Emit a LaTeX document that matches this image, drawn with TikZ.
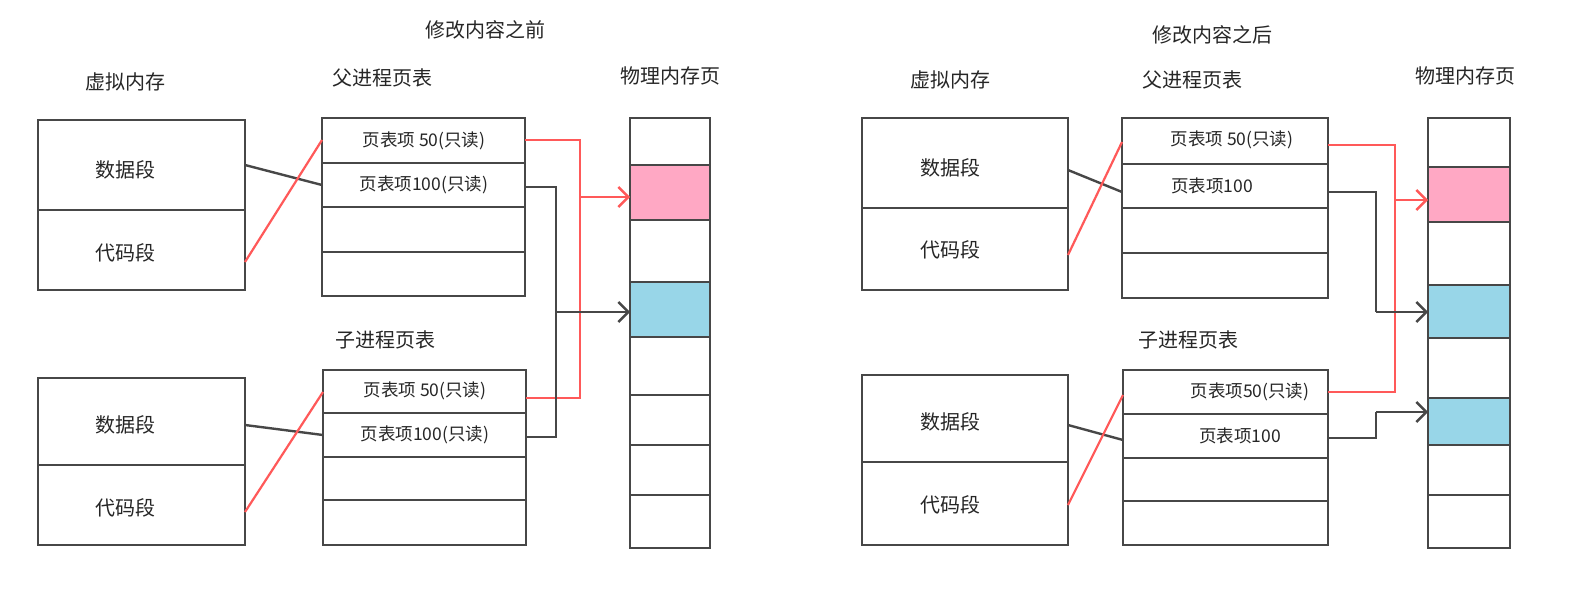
\documentclass[tikz,border=0pt]{standalone}
\usepackage{fontspec}
\setmainfont{Noto Sans CJK SC}
\usetikzlibrary{arrows.meta}
\definecolor{pk}{HTML}{FFA8C4}
\definecolor{bl}{HTML}{98D6E8}
\begin{document}
\begin{tikzpicture}[x=1pt,y=-1pt,
  bx/.style={draw=black!72,line width=2.6pt},
  sep/.style={draw=black!72,line width=2.4pt},
  lbl/.style={font=\fontsize{20}{22}\selectfont,text=black!85},
  ent/.style={font=\fontsize{17.5}{19}\selectfont,text=black!85},
  blk/.style={draw=black!72,line width=2.4pt},
  red/.style={draw=red!65,line width=2.2pt},
  arr/.style={-{Straight Barb[length=10pt,width=20pt,line width=2.4pt]}}]
\useasboundingbox (0,0) rectangle (1590,592);
\fill[white] (0,0) rectangle (1590,592);
% ===== left panel =====
\node[lbl] (t1) at (485,30) {修改内容之前};
\node[lbl] (vm1) at (125,82) {虚拟内存};
\node[lbl] (pp1) at (382,78) {父进程页表};
\node[lbl] (pm1) at (670,76) {物理内存页};
\node[lbl] (cp1) at (385,340) {子进程页表};
\draw[bx] (38,120) rectangle (245,290); \draw[sep] (38,210) -- (245,210);
\node[lbl] (d1) at (125,170) {数据段}; \node[lbl] (c1) at (125,253) {代码段};
\draw[bx] (38,378) rectangle (245,545); \draw[sep] (38,465) -- (245,465);
\node[lbl] (d2) at (125,425) {数据段}; \node[lbl] (c2) at (125,508) {代码段};
\draw[bx] (322,118) rectangle (525,296);
\foreach \y in {163,207,252} \draw[sep] (322,\y) -- (525,\y);
\node[ent] (p50) at (424,141) {页表项 50(只读)};
\node[ent] (p100) at (424,185) {页表项100(只读)};
\draw[bx] (323,370) rectangle (526,545);
\foreach \y in {413,457,500} \draw[sep] (323,\y) -- (526,\y);
\node[ent] (c50) at (425,391) {页表项 50(只读)};
\node[ent] (c100) at (425,435) {页表项100(只读)};
\fill[pk] (630,165) rectangle (710,220);
\fill[bl] (630,282) rectangle (710,337);
\draw[bx] (630,118) rectangle (710,548);
\foreach \y in {165,220,282,337,395,445,495} \draw[sep] (630,\y) -- (710,\y);
\coordinate (pk1) at (630,197); \coordinate (bl1) at (630,312);
\draw[blk] (245,165) -- (322,185);
\draw[red] (245,262) -- (322,140);
\draw[blk] (245,425) -- (323,435);
\draw[red] (245,512) -- (323,392);
\draw[red] (525,140) -| (580,398) -- (526,398);
\draw[red,arr] (580,197) -- (pk1);
\draw[blk] (525,187) -| (556,437) -- (526,437);
\draw[blk,arr] (556,312) -- (bl1);
% ===== right panel =====
\node[lbl] (t2) at (1212,35) {修改内容之后};
\node[lbl] (vm2) at (950,80) {虚拟内存};
\node[lbl] (pp2) at (1192,80) {父进程页表};
\node[lbl] (pm2) at (1465,76) {物理内存页};
\node[lbl] (cp2) at (1188,340) {子进程页表};
\draw[bx] (862,118) rectangle (1068,290); \draw[sep] (862,208) -- (1068,208);
\node[lbl] (d3) at (950,168) {数据段}; \node[lbl] (c3) at (950,250) {代码段};
\draw[bx] (862,375) rectangle (1068,545); \draw[sep] (862,462) -- (1068,462);
\node[lbl] (d4) at (950,422) {数据段}; \node[lbl] (c4) at (950,505) {代码段};
\draw[bx] (1122,118) rectangle (1328,298);
\foreach \y in {164,208,253} \draw[sep] (1122,\y) -- (1328,\y);
\node[ent] (q50) at (1232,140) {页表项 50(只读)};
\node[ent] (q100) at (1212,186) {页表项100};
\draw[bx] (1123,370) rectangle (1328,545);
\foreach \y in {414,458,501} \draw[sep] (1123,\y) -- (1328,\y);
\node[ent] (e50) at (1250,392) {页表项50(只读)};
\node[ent] (e100) at (1240,436) {页表项100};
\fill[pk] (1428,167) rectangle (1510,222);
\fill[bl] (1428,285) rectangle (1510,338);
\fill[bl] (1428,398) rectangle (1510,445);
\draw[bx] (1428,118) rectangle (1510,548);
\foreach \y in {167,222,285,338,398,445,495} \draw[sep] (1428,\y) -- (1510,\y);
\coordinate (pk2) at (1428,200); \coordinate (bl2) at (1428,312); \coordinate (bl3) at (1428,412);
\draw[blk] (1068,170) -- (1122,192);
\draw[red] (1068,255) -- (1122,142);
\draw[blk] (1068,425) -- (1123,440);
\draw[red] (1068,505) -- (1123,395);
\draw[red] (1328,145) -| (1395,392) -- (1328,392);
\draw[red,arr] (1395,200) -- (pk2);
\draw[blk] (1328,192) -| (1376,312);
\draw[blk,arr] (1376,312) -- (bl2);
\draw[blk] (1328,438) -- (1376,438) |- (1376,412);
\draw[blk,arr] (1376,412) -- (bl3);
\end{tikzpicture}
\end{document}
